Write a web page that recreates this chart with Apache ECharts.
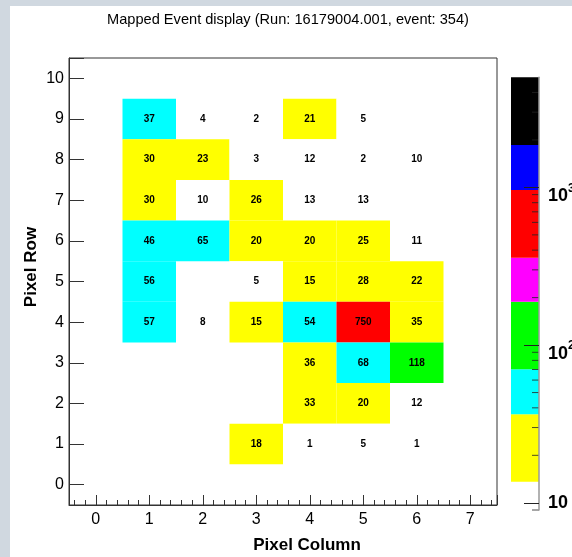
<!DOCTYPE html>
<html><head><meta charset="utf-8">
<script src="https://cdn.jsdelivr.net/npm/echarts@6/dist/echarts.min.js"></script>
<style>html,body{margin:0;padding:0;background:#d0d8e0;}#c{width:572px;height:557px;}</style>
</head><body><div id="c"></div>
<script>
const titleText = 'Mapped Event display (Run: 16179004.001, event: 354)';
const xTitle = 'Pixel Column';
const yTitle = 'Pixel Row';
// cells: column, row, hit count
const cellCol   = [1, 2, 3, 4, 5,   1, 2, 3, 4, 5, 6,   1, 2, 3, 4, 5,   1, 2, 3, 4, 5, 6,   1, 3, 4, 5, 6,   1, 2, 3, 4, 5, 6,   4, 5, 6,   4, 5, 6,   3, 4, 5, 6];
const cellRow   = [9, 9, 9, 9, 9,   8, 8, 8, 8, 8, 8,   7, 7, 7, 7, 7,   6, 6, 6, 6, 6, 6,   5, 5, 5, 5, 5,   4, 4, 4, 4, 4, 4,   3, 3, 3,   2, 2, 2,   1, 1, 1, 1];
const cellValue = [37, 4, 2, 21, 5, 30, 23, 3, 12, 2, 10, 30, 10, 26, 13, 13, 46, 65, 20, 20, 25, 11, 56, 5, 15, 28, 22, 57, 8, 15, 54, 750, 35, 36, 68, 118, 33, 20, 12, 18, 1, 5, 1];
// palette (log z)
const paletteBounds = [13.6, 36.4, 70.2, 188, 358, 961, 1854, 4990];
const paletteColors = ['#ffff00', '#00ffff', '#00ff00', '#ff00ff', '#ff0000', '#0000ff', '#000000'];
const paletteMinorTicks = [9, 20, 30, 40, 50, 60, 70, 80, 90, 200, 300, 400, 500, 600, 700, 800, 900, 2000, 3000, 4000];
const zAxisMin = 9, zAxisMax = 4990;
const xMin = -0.5, xMax = 7.5, yMin = -0.5, yMax = 10.5;

const FONT = 'Liberation Sans, Arial, Helvetica, sans-serif';
function colorFor(v) {
  if (v < paletteBounds[0]) return '#ffffff';
  for (let i = 0; i < paletteColors.length; i++) {
    if (v >= paletteBounds[i] && v < paletteBounds[i + 1]) return paletteColors[i];
  }
  return paletteColors[paletteColors.length - 1];
}
const cellData = cellValue.map((v, i) => [cellCol[i], cellRow[i], v]);
const paletteData = paletteColors.map((c, i) => [paletteBounds[i], paletteBounds[i + 1], i]);

const chart = echarts.init(document.getElementById('c'), null, {renderer: 'canvas'});
const intFmt = v => (Math.abs(v - Math.round(v)) < 1e-9 ? String(Math.round(v)) : '');
chart.setOption({
  backgroundColor: 'transparent',
  animation: false,
  textStyle: {fontFamily: FONT},
  grid: [
    {left: 69, top: 58, width: 428, height: 447, show: true, borderColor: '#333', borderWidth: 1, backgroundColor: 'transparent', containLabel: false, outerBoundsMode: 'none'},
    {left: 511, top: 77.3, width: 28, height: 432.7, show: false, containLabel: false, outerBoundsMode: 'none'}
  ],
  xAxis: [
    {gridIndex: 0, type: 'value', position: 'bottom', min: xMin, max: xMax, splitNumber: 8, minInterval: 1, maxInterval: 1,
     axisLine: {show: true, onZero: false, lineStyle: {color: '#333', width: 1}},
     axisTick: {show: true, inside: true, length: 10, lineStyle: {color: '#333'}},
     axisLabel: {fontSize: 16, color: '#000', margin: 7, fontFamily: FONT, formatter: intFmt},
     splitLine: {show: false}},
    {gridIndex: 0, type: 'value', position: 'bottom', min: xMin, max: xMax, splitNumber: 40, minInterval: 0.2, maxInterval: 0.2,
     axisLine: {show: false, onZero: false}, axisTick: {show: true, inside: true, length: 5, lineStyle: {color: '#333'}},
     axisLabel: {show: false}, splitLine: {show: false}},
    {gridIndex: 1, type: 'value', min: 0, max: 1, show: false, axisLine: {onZero: false}}
  ],
  yAxis: [
    {gridIndex: 0, type: 'value', position: 'left', min: yMin, max: yMax, splitNumber: 11, minInterval: 1, maxInterval: 1,
     axisLine: {show: true, onZero: false, lineStyle: {color: '#333', width: 1}},
     axisTick: {show: true, inside: true, length: 15, lineStyle: {color: '#333'}},
     axisLabel: {fontSize: 16, color: '#000', margin: 5, fontFamily: FONT, formatter: intFmt},
     splitLine: {show: false}},
    {gridIndex: 1, type: 'log', logBase: 10, min: zAxisMin, max: zAxisMax, position: 'right', z: 10,
     axisLine: {show: true, onZero: false, lineStyle: {color: '#999', width: 1.5}},
     axisTick: {show: true, inside: true, length: 15, lineStyle: {color: '#222'}},
     axisLabel: {margin: 9, showMinLabel: false, showMaxLabel: false,
       formatter: v => {
         const l = Math.log10(v), r = Math.round(l);
         if (Math.abs(l - r) > 1e-6) return '';
         if (r === 1) return '{b|10}';
         return '{bb|10}{s|' + r + '}';
       },
       rich: {
         b: {fontSize: 18, fontWeight: 'bold', color: '#000', fontFamily: FONT},
         bb: {fontSize: 18, fontWeight: 'bold', color: '#000', fontFamily: FONT, lineHeight: 18, padding: [18, 0, 0, 0]},
         s: {fontSize: 12, fontWeight: 'bold', color: '#000', fontFamily: FONT, lineHeight: 14, padding: [12, 0, 10, 0]}
       }},
     splitLine: {show: false}}
  ],
  graphic: [
    {type: 'rect', left: 10, top: 6, z: -10, shape: {width: 562, height: 551}, style: {fill: '#ffffff'}},
    {type: 'text', x: 288, y: 20, style: {text: titleText, fontSize: 14.6, fontFamily: FONT, fill: '#000', align: 'center', verticalAlign: 'middle', textAlign: 'center', textVerticalAlign: 'middle'}},
    {type: 'text', x: 307, y: 545, style: {text: xTitle, fontSize: 17, fontWeight: 'bold', fontFamily: FONT, fill: '#000', align: 'center', verticalAlign: 'middle', textAlign: 'center', textVerticalAlign: 'middle'}},
    {type: 'text', x: 31, y: 267, rotation: Math.PI / 2, style: {text: yTitle, fontSize: 17, fontWeight: 'bold', fontFamily: FONT, fill: '#000', align: 'center', verticalAlign: 'middle', textAlign: 'center', textVerticalAlign: 'middle'}}
  ],
  series: [
    {type: 'custom', name: 'cells', xAxisIndex: 0, yAxisIndex: 0, data: cellData, z: 2,
     renderItem: (params, api) => {
       const x = api.value(0), y = api.value(1), v = api.value(2);
       const p = api.coord([x - 0.5, y + 0.5]);
       const s = api.size([1, 1]);
       return {type: 'rect', shape: {x: p[0], y: p[1], width: s[0], height: s[1]},
         style: {fill: colorFor(v)},
         textContent: {style: {text: String(v), fontSize: 10, fontWeight: 'bold', fill: '#000', fontFamily: FONT}},
         textConfig: {position: 'inside'}};
     }},
    {type: 'custom', name: 'palette', xAxisIndex: 2, yAxisIndex: 1, data: paletteData, z: 2,
     encode: {x: -1, y: [0, 1]},
     renderItem: (params, api) => {
       const lo = api.value(0), hi = api.value(1), idx = api.value(2);
       const pTop = api.coord([0, hi]);
       const pBot = api.coord([1, lo]);
       return {type: 'rect', shape: {x: pTop[0], y: pTop[1], width: pBot[0] - pTop[0], height: pBot[1] - pTop[1]},
         style: {fill: paletteColors[idx]}};
     }},
    {type: 'scatter', name: 'paletteMinor', xAxisIndex: 2, yAxisIndex: 1, z: 5, silent: true,
     data: paletteMinorTicks.map(v => [1, v]), symbol: 'rect', symbolSize: [7, 1], symbolOffset: [-3.5, 0],
     itemStyle: {color: '#222'}}
  ]
});
</script></body></html>
